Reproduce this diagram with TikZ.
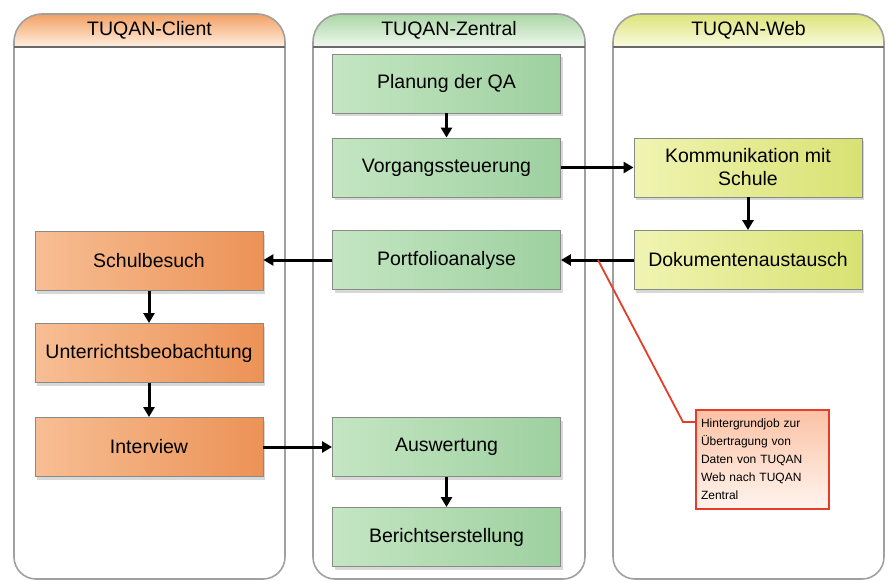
\documentclass[tikz,border=0pt]{standalone}
\usepackage{fontspec}
\setmainfont{Liberation Sans}
\usetikzlibrary{arrows.meta,shadows,calc}
\definecolor{laneline}{RGB}{160,160,160}
\definecolor{headline}{RGB}{105,105,105}
\definecolor{cliH}{RGB}{243,160,100}
\definecolor{cliHb}{RGB}{255,240,225}
\definecolor{zenH}{RGB}{170,214,165}
\definecolor{zenHb}{RGB}{240,248,238}
\definecolor{webH}{RGB}{220,228,120}
\definecolor{webHb}{RGB}{250,251,225}
\definecolor{grL}{RGB}{196,230,194}
\definecolor{grD}{RGB}{158,208,160}
\definecolor{orL}{RGB}{247,190,148}
\definecolor{orD}{RGB}{236,146,86}
\definecolor{yeL}{RGB}{240,244,178}
\definecolor{yeD}{RGB}{216,226,114}
\definecolor{boxborder}{RGB}{135,140,135}
\definecolor{redline}{RGB}{228,62,42}
\definecolor{calT}{RGB}{251,194,165}
\definecolor{calB}{RGB}{255,244,238}
\begin{document}
\begin{tikzpicture}[x=1pt,y=-1pt,
  lane/.style={draw=laneline,line width=1.6pt},
  lanetitle/.style={font=\fontsize{19.5}{22}\selectfont,inner sep=0pt},
  box/.style={draw=boxborder,line width=0.9pt,minimum width=228pt,minimum height=59pt,
    inner sep=0pt,align=center,font=\fontsize{19.5}{23}\selectfont,
    drop shadow={shadow xshift=2pt,shadow yshift=-3pt,opacity=.3,fill=gray}},
  gbox/.style={box,left color=grL,right color=grD},
  obox/.style={box,left color=orL,right color=orD},
  ybox/.style={box,left color=yeL,right color=yeD},
  arr/.style={line width=3pt,-{Triangle[length=10pt,width=11pt]}},
  callout/.style={draw=redline,line width=1.8pt,top color=calT,bottom color=calB,
    minimum width=133pt,minimum height=99pt,inner xsep=5pt,inner ysep=0pt,
    text width=123pt,align=left,font=\fontsize{12}{18}\selectfont}
]
\useasboundingbox[fill=white] (0,0) rectangle (889,581);

% lanes
\foreach \xa/\xb/\ct/\cb in {14/285/cliH/cliHb, 313/585/zenH/zenHb, 613/884/webH/webHb}{
  \fill[white] (\xa,300) [rounded corners=28pt] -- (\xa,14) -- (\xb,14) -- (\xb,300)
     [rounded corners=22pt] -- (\xb,579) -- (\xa,579) -- cycle;
  \begin{scope}
    \clip (\xa,300) [rounded corners=28pt] -- (\xa,14) -- (\xb,14) -- (\xb,300)
     [rounded corners=22pt] -- (\xb,579) -- (\xa,579) -- cycle;
    \shade[top color=\ct,bottom color=\cb] (\xa,14) rectangle (\xb,47);
  \end{scope}
  \draw[lane] (\xa,300) [rounded corners=28pt] -- (\xa,14) -- (\xb,14) -- (\xb,300)
     [rounded corners=22pt] -- (\xb,579) -- (\xa,579) -- cycle;
  \draw[headline,line width=2pt] (\xa,47) -- (\xb,47);
}
\node[lanetitle] (tcli) at (149.5,30) {TUQAN-Client};
\node[lanetitle] (tzen) at (449,30) {TUQAN-Zentral};
\node[lanetitle] (tweb) at (748.5,30) {TUQAN-Web};

% boxes
\node[gbox] (plan) at (446.5,83.5) {Planung der QA};
\node[gbox] (vorg) at (446.5,167.5) {Vorgangssteuerung};
\node[gbox] (port) at (446.5,260) {Portfolioanalyse};
\node[gbox] (ausw) at (446.5,447) {Auswertung};
\node[gbox] (beri) at (446.5,537) {Berichtserstellung};
\node[obox] (schul) at (149,261) {Schulbesuch};
\node[obox] (unter) at (149,353) {Unterrichtsbeobachtung};
\node[obox] (inter) at (149,447) {Interview};
\node[ybox] (komm) at (748,167.5) {Kommunikation mit\\Schule};
\node[ybox] (doku) at (748,260) {Dokumentenaustausch};

% arrows
\draw[arr] (plan) -- (vorg);
\draw[arr] (vorg) -- (komm);
\draw[arr] (komm) -- (doku);
\draw[arr] (doku) -- (port);
\draw[arr] (port.west) -- (port.west -| schul.east);
\draw[arr] (schul) -- (unter);
\draw[arr] (unter) -- (inter);
\draw[arr] (inter) -- (ausw);
\draw[arr] (ausw) -- (beri);

% callout
\node[callout] (note) at (762.5,459.5) {Hintergrundjob zur\\Übertragung von\\Daten von TUQAN\\Web nach TUQAN\\Zentral};
\coordinate (cfoot) at (598,260);
\coordinate (cbend) at (683,422);
\draw[redline,line width=1.8pt] (cfoot) -- (cbend) -- (cbend -| note.west);
\end{tikzpicture}
\end{document}
